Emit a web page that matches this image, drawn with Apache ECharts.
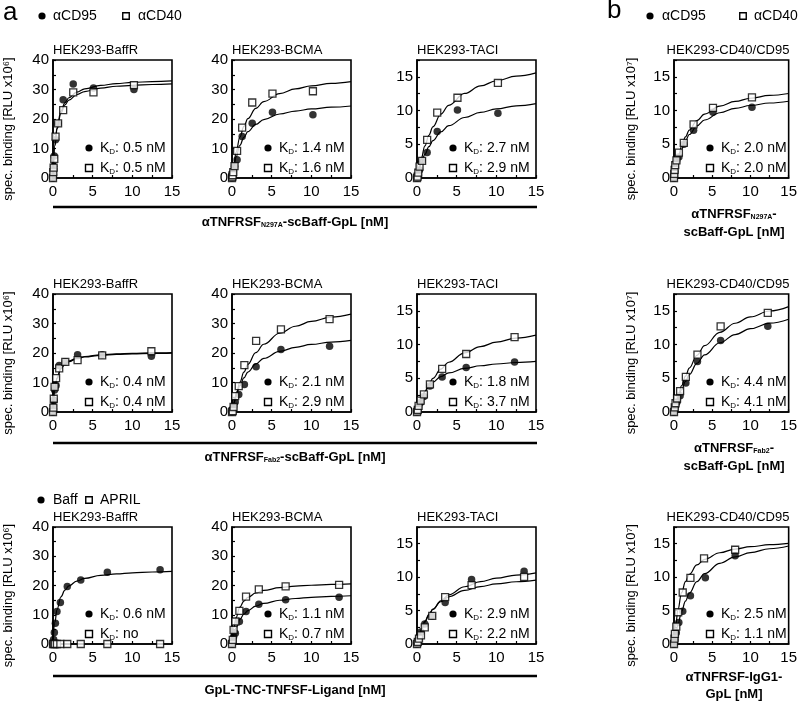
<!DOCTYPE html>
<html><head><meta charset="utf-8">
<script src="https://cdn.jsdelivr.net/npm/echarts@6/dist/echarts.min.js"></script>
<style>html,body{margin:0;padding:0;background:#fff}#c{width:800px;height:703px}</style>
</head><body><div id="c"></div>
<script>
// ---------- DATA ----------
const panelTitles = ['HEK293-BaffR','HEK293-BCMA','HEK293-TACI','HEK293-CD40/CD95',
                     'HEK293-BaffR','HEK293-BCMA','HEK293-TACI','HEK293-CD40/CD95',
                     'HEK293-BaffR','HEK293-BCMA','HEK293-TACI','HEK293-CD40/CD95'];
const kdCircle = ['0.5 nM','1.4 nM','2.7 nM','2.0 nM','0.4 nM','2.1 nM','1.8 nM','4.4 nM','0.6 nM','1.1 nM','2.9 nM','2.5 nM'];
const kdSquare = ['0.5 nM','1.6 nM','2.9 nM','2.0 nM','0.4 nM','2.9 nM','3.7 nM','4.1 nM','no','0.7 nM','2.2 nM','1.1 nM'];
const yMax = [40,40,17.5,17.5, 40,40,17.5,17.5, 40,40,17.5,17.5];
const legendTop = ['αCD95','αCD40'];
const legendBottom = ['Baff','APRIL'];

// measured points [concentration nM, signal]
const p1_c = [[0,0],[0.04,2.5],[0.08,4],[0.16,7.5],[0.32,13],[0.64,18.5],[1.28,26.5],[2.55,31.9],[5.1,30.5],[10.2,30]];
const p1_s = [[0,0],[0.04,2],[0.08,3.5],[0.16,6.5],[0.32,14],[0.64,18.5],[1.28,23],[2.55,29],[5.1,29],[10.2,31.5]];
const p2_c = [[0,0],[0.04,0.5],[0.08,1],[0.16,2.3],[0.32,4],[0.64,6.2],[1.28,14.1],[2.55,18.6],[5.1,22.3],[10.2,21.4]];
const p2_s = [[0,0],[0.04,0.5],[0.08,1],[0.16,2],[0.32,4],[0.64,9.2],[1.28,17.1],[2.55,25.6],[5.1,28.6],[10.2,29.4]];
const p3_c = [[0,0],[0.08,0.3],[0.16,0.6],[0.32,1.2],[0.64,2.6],[1.28,3.8],[2.55,6.9],[5.1,10.1],[10.2,9.6]];
const p3_s = [[0,0],[0.08,0.2],[0.16,0.8],[0.32,1.7],[0.64,2.55],[1.28,5.65],[2.55,9.7],[5.1,11.9],[10.2,14.1]];
const p4_c = [[0,0],[0.04,0.5],[0.08,1],[0.16,1.7],[0.32,2.5],[0.64,3.1],[1.28,5.0],[2.56,7.07],[5.1,9.75],[10.2,10.5]];
const p4_s = [[0,0],[0.04,0.6],[0.08,1.2],[0.16,1.9],[0.32,2.6],[0.64,3.75],[1.28,5.2],[2.56,7.95],[5.1,10.4],[10.2,11.95]];
const p5_c = [[0,0],[0.05,2],[0.1,4],[0.2,7.5],[0.39,9],[0.78,15.8],[1.55,17],[3.1,19.4],[6.2,19.4],[12.4,18.9]];
const p5_s = [[0,0],[0.05,1.5],[0.1,4.5],[0.2,8.5],[0.39,11.5],[0.78,14.8],[1.55,17],[3.1,17.6],[6.2,19.2],[12.4,20.6]];
const p6_c = [[0,0],[0.1,1],[0.2,1.9],[0.4,3.4],[0.85,5.9],[1.56,9.3],[3.04,15.3],[6.17,21.2],[12.3,22.3]];
const p6_s = [[0,0],[0.1,0.3],[0.2,1.7],[0.4,5.4],[0.85,8.8],[1.56,15.9],[3.04,24.1],[6.17,28],[12.3,31.5]];
const p7_c = [[0,0],[0.1,0.4],[0.2,0.8],[0.46,1.4],[0.87,2.3],[1.63,3.85],[3.17,5.2],[6.2,6.6],[12.3,7.4]];
const p7_s = [[0,0],[0.1,0.3],[0.2,0.9],[0.46,1.7],[0.87,2.6],[1.63,4.1],[3.17,6.4],[6.2,8.6],[12.3,11.1]];
const p8_c = [[0,0],[0.1,0.6],[0.2,1.0],[0.4,1.5],[0.8,2.4],[1.55,4.3],[3.07,7.5],[6.1,10.6],[12.27,12.7]];
const p8_s = [[0,0],[0.1,0.7],[0.2,1.3],[0.4,2.0],[0.8,3.1],[1.55,5.2],[3.07,8.5],[6.1,12.7],[12.27,14.7]];
const p9_c = [[0,0],[0.08,1.5],[0.17,3.9],[0.3,7.1],[0.5,11.1],[0.93,14.2],[1.8,19.7],[3.5,21.9],[6.85,24.5],[13.5,25.4]];
const p9_s = [[0,0],[0.1,0],[0.25,0],[0.5,0],[0.93,0],[1.8,0],[3.5,0],[6.85,0],[13.5,0]];
const p10_c = [[0,0],[0.1,1],[0.2,2.5],[0.42,3.7],[0.93,7.7],[1.77,11.1],[3.38,13.6],[6.76,15.1],[13.5,16.0]];
const p10_s = [[0,0],[0.1,1.4],[0.2,4.8],[0.42,7.7],[0.93,11.3],[1.77,16.2],[3.38,18.7],[6.76,19.7],[13.5,20.2]];
const p11_c = [[0,0],[0.1,0.5],[0.25,1.0],[0.5,1.8],[0.98,3.0],[1.92,4.2],[3.55,6.2],[6.88,9.65],[13.5,10.9]];
const p11_s = [[0,0],[0.1,0.3],[0.25,0.8],[0.5,1.3],[0.98,2.5],[1.92,4.2],[3.55,7.0],[6.88,8.8],[13.5,10.05]];
const p12_c = [[0,0],[0.06,0.4],[0.12,0.7],[0.3,1.7],[0.63,3.2],[1.14,4.9],[2.15,7.2],[4.1,9.9],[8.0,13.2]];
const p12_s = [[0,0],[0.06,0.8],[0.12,1.5],[0.3,2.6],[0.55,4.75],[1.14,7.7],[2.15,9.9],[3.93,12.8],[8.0,14.1]];

// fitted curves read at these concentrations
const fitX = [0,0.25,0.5,1,1.5,2,3,4,6,8,10,12.5,15];
const f1_c = [0,11.0,16.5,22.0,24.75,26.4,28.3,29.3,30.5,31.1,31.4,31.7,31.9];
const f1_s = [0,11.3,17.0,22.7,25.5,27.2,29.1,30.2,31.4,32.0,32.4,32.7,32.9];
const f2_c = [0,4.05,7.03,11.1,13.8,15.7,18.2,19.8,21.7,22.7,23.4,24.0,24.4];
const f2_s = [0,4.89,8.62,13.9,17.5,20.1,23.6,25.9,28.6,30.2,31.2,32.1,32.7];
const f3_c = [0,1.10,2.03,3.51,4.64,5.53,6.84,7.76,8.97,9.72,10.24,10.69,11.02];
const f3_s = [0,1.48,2.74,4.77,6.34,7.59,9.46,10.78,12.54,13.65,14.42,15.10,15.59];
const f4_c = [0,1.43,2.58,4.30,5.53,6.45,7.74,8.6,9.68,10.32,10.75,11.12,11.38];
const f4_s = [0,1.58,2.84,4.73,6.09,7.1,8.52,9.47,10.65,11.36,11.83,12.24,12.53];
const f5_c = [0,7.88,11.39,14.64,16.18,17.08,18.09,18.64,19.22,19.52,19.71,19.86,19.97];
const f5_s = [0,7.96,11.5,14.79,16.34,17.25,18.26,18.82,19.41,19.71,19.9,20.06,20.16];
const f6_c = [0,2.95,5.33,8.94,11.54,13.51,16.29,18.16,20.52,21.94,22.89,23.72,24.3];
const f6_s = [0,3.14,5.82,10.15,13.5,16.16,20.14,22.96,26.7,29.06,30.7,32.15,33.18];
const f7_c = [0,1.02,1.83,3.0,3.82,4.42,5.25,5.79,6.46,6.86,7.12,7.34,7.5];
const f7_s = [0,0.90,1.69,3.02,4.1,4.98,6.36,7.38,8.78,9.71,10.36,10.96,11.39];
const f8_c = [0,0.96,1.82,3.3,4.53,5.56,7.22,8.48,10.27,11.48,12.36,13.17,13.76];
const f8_s = [0,1.14,2.16,3.9,5.33,6.52,8.41,9.83,11.82,13.16,14.11,14.98,15.63];
const f9_c = [0,7.59,11.73,16.13,18.43,19.85,21.5,22.43,23.45,23.98,24.34,24.62,24.81];
const f9_s = null;
const f10_c = [0,3.28,5.53,8.43,10.21,11.42,12.95,13.88,14.96,15.56,15.95,16.27,16.49];
const f10_s = [0,5.66,8.96,12.65,14.66,15.93,17.43,18.3,19.25,19.77,20.09,20.36,20.54];
const f11_c = [0,1.01,1.87,3.26,4.33,5.18,6.46,7.36,8.56,9.32,9.84,10.31,10.64];
const f11_s = [0,1.12,2.03,3.42,4.44,5.21,6.32,7.06,8.01,8.59,8.98,9.31,9.55];
const f12_c = [0,1.55,2.85,4.89,6.41,7.6,9.33,10.52,12.07,13.03,13.68,14.25,14.66];
const f12_s = [0,2.99,5.05,7.69,9.32,10.42,11.82,12.67,13.65,14.2,14.55,14.85,15.05];

const ptsC = [p1_c,p2_c,p3_c,p4_c,p5_c,p6_c,p7_c,p8_c,p9_c,p10_c,p11_c,p12_c];
const ptsS = [p1_s,p2_s,p3_s,p4_s,p5_s,p6_s,p7_s,p8_s,p9_s,p10_s,p11_s,p12_s];
const fitC = [f1_c,f2_c,f3_c,f4_c,f5_c,f6_c,f7_c,f8_c,f9_c,f10_c,f11_c,f12_c];
const fitS = [f1_s,f2_s,f3_s,f4_s,f5_s,f6_s,f7_s,f8_s,f9_s,f10_s,f11_s,f12_s];

// ---------- LAYOUT ----------
const FF = '"Liberation Sans", Arial, sans-serif';
const colLeft = [53, 232, 417, 674];
const colW = [119, 119, 119, 118];
const rowTop = [60, 294, 527];
const rowH = [118, 118, 117];

const cv = document.createElement('canvas').getContext('2d');
function tw(t, size, bold){ cv.font = (bold?'bold ':'') + size + 'px ' + FF; return cv.measureText(t).width; }
function txt(x, y, t, size, opt){
  opt = opt || {};
  return {type:'text', x:x, y:y, rotation: opt.rot || 0, silent:true, z:10,
    style:{text:t, fontSize:size, fontWeight: opt.bold?'bold':'normal', fontFamily:FF, fill:'#000',
      align: opt.align || 'left', verticalAlign:'middle'}};
}
function segs(x, y, parts, align){
  let total = 0;
  const ws = parts.map(p => { const w = tw(p[0], p[1], p[2]); total += w; return w; });
  let cx = align === 'center' ? x - total/2 : x;
  return parts.map((p,k) => { const el = txt(cx, y + (p[3]||0), p[0], p[1], {bold:p[2]}); cx += ws[k]; return el; });
}
function dot(x, y, r){ return {type:'circle', silent:true, z:10, shape:{cx:x, cy:y, r:r}, style:{fill:'#000'}}; }
function sq(x, y, s){ return {type:'rect', silent:true, z:10, shape:{x:x-s/2, y:y-s/2, width:s, height:s}, style:{fill:'#fff', stroke:'#000', lineWidth:1.4}}; }

const grids = [], xAxes = [], yAxes = [], series = [], graphics = [];
for (let r = 0; r < 3; r++) for (let c = 0; c < 4; c++) {
  const i = r*4 + c;
  const L = colLeft[c], T = rowTop[r], W = colW[c], H = rowH[r], B = T + H;
  grids.push({left:L, top:T, width:W, height:H, show:true, borderColor:'#000', borderWidth:1.6});
  xAxes.push({gridIndex:i, type:'value', min:0, max:15, interval:2.5,
    axisLine:{show:true, lineStyle:{color:'#000', width:1.6}},
    axisTick:{show:true, inside:true, length:3, lineStyle:{color:'#000', width:1.2}},
    axisLabel:{color:'#000', fontSize:15, fontFamily:FF, margin:6, formatter: v => (v % 5 === 0 ? String(v) : '')},
    splitLine:{show:false}});
  const ym = yMax[i];
  const yi = ym === 40 ? 5 : 2.5;
  const ymaj = ym === 40 ? 10 : 5;
  yAxes.push({gridIndex:i, type:'value', min:0, max:ym, interval:yi,
    axisLine:{show:true, lineStyle:{color:'#000', width:1.6}},
    axisTick:{show:true, inside:true, length:3, lineStyle:{color:'#000', width:1.2}},
    axisLabel:{color:'#000', fontSize:15, fontFamily:FF, margin:4, formatter: v => (v % ymaj === 0 ? String(v) : '')},
    splitLine:{show:false}});
  // fits
  [[fitC[i]],[fitS[i]]].forEach(f => {
    if (!f[0]) return;
    series.push({type:'line', xAxisIndex:i, yAxisIndex:i, data: fitX.map((x,j)=>[x, f[0][j]]),
      showSymbol:false, smooth:0.4, smoothMonotone:'x', lineStyle:{color:'#000', width:1.2}, z:2, silent:true, animation:false});
  });
  series.push({type:'scatter', xAxisIndex:i, yAxisIndex:i, data: ptsC[i], symbol:'circle', symbolSize:7.5,
    itemStyle:{color:'#000'}, z:3, clip:false, silent:true, animation:false});
  series.push({type:'scatter', xAxisIndex:i, yAxisIndex:i, data: ptsS[i], symbol:'rect', symbolSize:7,
    itemStyle:{color:'#fff', borderColor:'#000', borderWidth:1.3}, z:4, clip:false, silent:true, animation:false});
  // title
  if (c === 3) graphics.push(txt(L + W/2 - 5, T - 10, panelTitles[i], 13, {align:'center'}));
  else graphics.push(txt(L, T - 10, panelTitles[i], 13));
  // KD annotations
  const mx = L + 36;
  graphics.push(dot(mx, B - 30, 3.6));
  graphics.push(sq(mx, B - 10, 7));
  graphics.push(...segs(L + 47, B - 30, [['K',14],['D',8,false,4],[': ' + kdCircle[i],14]]));
  graphics.push(...segs(L + 47, B - 10, [['K',14],['D',8,false,4],[': ' + kdSquare[i],14]]));
  // y axis label for col 1 and col 4
  if (c === 0) graphics.push(txt(8, T + H/2 + 10, 'spec. binding [RLU x10\u2076]', 13, {align:'center', rot:Math.PI/2}));
  if (c === 3) graphics.push(txt(631, T + H/2 + 10, 'spec. binding [RLU x10\u2077]', 13, {align:'center', rot:Math.PI/2}));
}

// panel letters and legends
graphics.push(txt(3, 13, 'a', 26));
graphics.push(txt(607, 11, 'b', 26));
graphics.push(dot(42, 16, 3.6), txt(53, 16, legendTop[0], 14), sq(126, 16, 6.5), txt(138, 16, legendTop[1], 14));
graphics.push(dot(650, 16, 3.6), txt(662, 16, legendTop[0], 14), sq(743, 16, 6.5), txt(754, 16, legendTop[1], 14));
graphics.push(dot(41, 500, 3.6), txt(53, 500, legendBottom[0], 14), sq(89, 500, 6.5), txt(100, 500, legendBottom[1], 14));

// separator lines and shared x labels
[207, 443, 676].forEach(y => graphics.push({type:'line', silent:true, z:10, shape:{x1:53, y1:y, x2:537, y2:y}, style:{stroke:'#000', lineWidth:2.6}}));
graphics.push(...segs(295, 222, [['αTNFRSF',13,true],['N297A',7,true,3],['-scBaff-GpL [nM]',13,true]], 'center'));
graphics.push(...segs(295, 457, [['αTNFRSF',13,true],['Fab2',7,true,3],['-scBaff-GpL [nM]',13,true]], 'center'));
graphics.push(...segs(295, 690, [['GpL-TNC-TNFSF-Ligand [nM]',13,true]], 'center'));
graphics.push(...segs(734, 214, [['αTNFRSF',13,true],['N297A',7,true,3],['-',13,true]], 'center'));
graphics.push(...segs(734, 232, [['scBaff-GpL [nM]',13,true]], 'center'));
graphics.push(...segs(734, 448, [['αTNFRSF',13,true],['Fab2',7,true,3],['-',13,true]], 'center'));
graphics.push(...segs(734, 466, [['scBaff-GpL [nM]',13,true]], 'center'));
graphics.push(...segs(734, 677, [['αTNFRSF-IgG1-',13,true]], 'center'));
graphics.push(...segs(734, 694, [['GpL [nM]',13,true]], 'center'));

const chart = echarts.init(document.getElementById('c'), null, {renderer:'canvas'});
chart.setOption({animation:false, backgroundColor:'#fff', grid:grids, xAxis:xAxes, yAxis:yAxes, series:series, graphic:graphics});
</script></body></html>
